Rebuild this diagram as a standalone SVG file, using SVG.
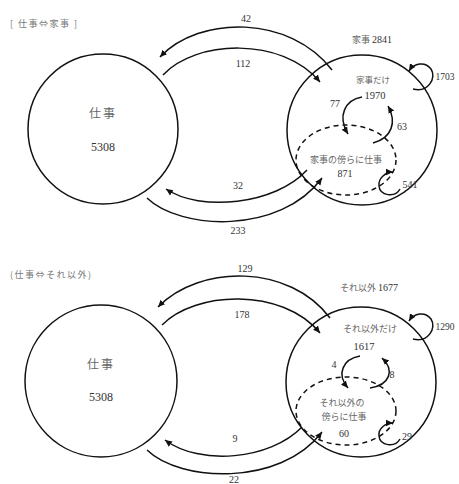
<svg xmlns="http://www.w3.org/2000/svg" width="459" height="484" viewBox="0 0 459 484">
<style>
.bg{fill:#fff}
.circ{fill:none;stroke:#111;stroke-width:1.5}
.dash{fill:none;stroke:#111;stroke-width:1.5;stroke-dasharray:5 4}
.arc{fill:none;stroke:#111;stroke-width:1.5;marker-end:url(#ah)}
.jp{font-family:"Noto Sans CJK JP","Noto Sans",sans-serif;fill:#666;text-anchor:middle}
.num{font-family:"Liberation Serif",serif;fill:#333;text-anchor:middle}
.title{font-family:"Noto Sans CJK JP","Noto Sans",sans-serif;fill:#777;font-size:9px;letter-spacing:1.5px}
</style>
<defs>
<marker id="ah" markerUnits="userSpaceOnUse" markerWidth="8" markerHeight="8" refX="7" refY="4" orient="auto">
<path d="M0,0.8 L7,4 L0,7.2 Z" fill="#111"/>
</marker>
</defs>
<rect class="bg" width="459" height="484"/>

<g id="section-kaji">
<text class="title" x="10" y="27">[ 仕事⇔家事 ]</text>
<g id="node-shigoto-1">
<circle class="circ" cx="103" cy="129" r="75"/>
<text class="jp" x="103" y="118" font-size="12" letter-spacing="2">仕事</text>
<text class="num" x="103" y="151" font-size="12">5308</text>
</g>
<g id="node-kaji">
<circle class="circ" cx="362" cy="130" r="75"/>
<text class="jp" x="372" y="43" font-size="9">家事 <tspan class="num" font-size="10">2841</tspan></text>
</g>
<g id="node-kaji-dake">
<text class="jp" x="373" y="83" font-size="8.5">家事だけ</text>
<text class="num" x="375" y="99" font-size="10.5">1970</text>
</g>
<g id="node-kaji-katawara">
<ellipse class="dash" cx="346" cy="160" rx="50" ry="35"/>
<text class="jp" x="346" y="163" font-size="9">家事の傍らに仕事</text>
<text class="num" x="345" y="177" font-size="10">871</text>
</g>
<g id="connectors-kaji">
<path class="arc" d="M332,70 C290,15 200,15 160,57"/>
<path class="arc" d="M163,75 C195,40 282,36 320,82"/>
<path class="arc" d="M307,170 C275,205 200,212 166,189"/>
<path class="arc" d="M147,198 C180,230 280,235 322,178"/>
<path class="arc" d="M413,89 C428,93 437,78 431,69 C425,61 414,63 409,71"/>
<path class="arc" d="M400,189 C395,198 380,196 379,186 C378,178 386,172 393,172"/>
<path class="arc" d="M362,97 C345,100 337,116 348,134"/>
<path class="arc" d="M373,143 C392,138 397,122 388,106"/>
<text class="num" x="246" y="22" font-size="10">42</text>
<text class="num" x="243" y="67" font-size="10">112</text>
<text class="num" x="238" y="189" font-size="10">32</text>
<text class="num" x="238" y="234" font-size="10">233</text>
<text class="num" x="445" y="80" font-size="9.5">1703</text>
<text class="num" x="335" y="107" font-size="10">77</text>
<text class="num" x="402" y="130" font-size="10">63</text>
<text class="num" x="410" y="188" font-size="10">541</text>
</g>
</g>

<g id="section-sonota" transform="translate(0,252)">
<text class="title" x="10" y="26">(仕事⇔それ以外)</text>
<g id="node-shigoto-2">
<circle class="circ" cx="101" cy="129" r="76"/>
<text class="jp" x="101" y="117" font-size="12" letter-spacing="2">仕事</text>
<text class="num" x="101" y="149" font-size="12">5308</text>
</g>
<g id="node-sonota">
<circle class="circ" cx="361" cy="130" r="75"/>
<text class="jp" x="369" y="39" font-size="9">それ以外 <tspan class="num" font-size="10">1677</tspan></text>
</g>
<g id="node-sonota-dake">
<text class="jp" x="370" y="80" font-size="9">それ以外だけ</text>
<text class="num" x="364" y="98" font-size="10.5">1617</text>
</g>
<g id="node-sonota-katawara">
<ellipse class="dash" cx="346" cy="159" rx="50" ry="34"/>
<text class="jp" x="342" y="154" font-size="9">それ以外の</text>
<text class="jp" x="344" y="168" font-size="9">傍らに仕事</text>
<text class="num" x="344" y="185" font-size="10">60</text>
</g>
<g id="connectors-sonota">
<path class="arc" d="M330,66 C290,12 200,12 158,55"/>
<path class="arc" d="M162,73 C195,39 282,35 320,81"/>
<path class="arc" d="M302,175 C270,208 200,214 165,188"/>
<path class="arc" d="M147,198 C180,230 280,235 322,180"/>
<path class="arc" d="M413,87 C428,91 437,76 431,67 C425,59 414,61 409,69"/>
<path class="arc" d="M400,187 C395,196 380,194 379,184 C378,176 386,171 393,171"/>
<path class="arc" d="M360,104 C343,107 336,122 348,136"/>
<path class="arc" d="M370,136 C390,133 395,118 382,106"/>
<text class="num" x="245" y="20" font-size="10">129</text>
<text class="num" x="242" y="66" font-size="10">178</text>
<text class="num" x="235" y="190" font-size="10">9</text>
<text class="num" x="234" y="231" font-size="10">22</text>
<text class="num" x="445" y="78" font-size="9.5">1290</text>
<text class="num" x="334" y="116" font-size="10">4</text>
<text class="num" x="392" y="126" font-size="10">8</text>
<text class="num" x="407" y="188" font-size="10">29</text>
</g>
</g>
</svg>
